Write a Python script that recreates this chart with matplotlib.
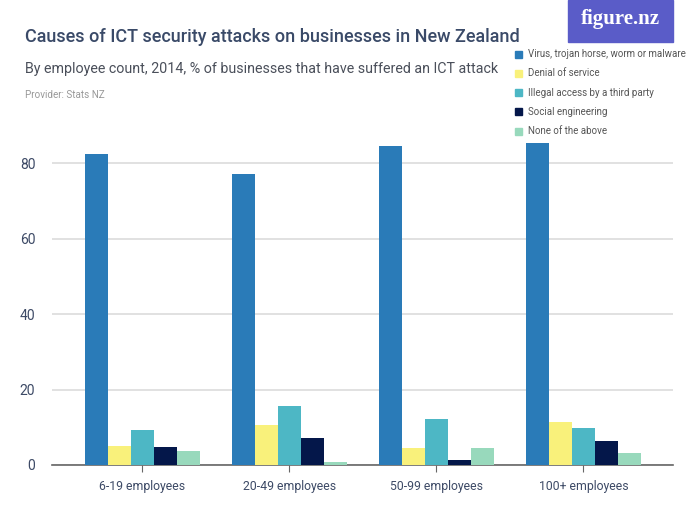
import numpy as np
import matplotlib.pyplot as plt
from matplotlib.patches import Rectangle

# data
groups = ["6-19 employees", "20-49 employees", "50-99 employees", "100+ employees"]
series = ["Virus, trojan horse, worm or malware", "Denial of service",
          "Illegal access by a third party", "Social engineering", "None of the above"]
virus = [82.6, 77.3, 84.5, 85.3]
denial = [5.0, 10.5, 4.5, 11.3]
illegal = [9.3, 15.6, 12.3, 9.7]
social = [4.8, 7.2, 1.3, 6.4]
none_above = [3.7, 0.8, 4.5, 3.1]
colors = ["#2a7bb8", "#f9f17b", "#4db7c5", "#04174a", "#98d9bc"]

plt.rcParams['font.family'] = ['Roboto', 'DejaVu Sans']

fig = plt.figure(figsize=(7, 5.25), dpi=100)
ax = fig.add_axes([52 / 700, 1 - 465 / 525, 621 / 700, 90 * 3.771 / 525])

x = np.arange(len(groups))
w = 23 / 147
for i, vals in enumerate([virus, denial, illegal, social, none_above]):
    ax.bar(x + (i - 2) * w, vals, w, color=colors[i], label=series[i], zorder=3)

ax.set_xlim(-0.615, 3.61)
ax.set_ylim(0, 90)
ax.set_yticks([0, 20, 40, 60, 80])
ax.yaxis.grid(True, color="#dedede", lw=1.3, zorder=0)
for s in ["top", "right", "left"]:
    ax.spines[s].set_visible(False)
ax.spines["bottom"].set_color("#666666")
ax.spines["bottom"].set_linewidth(1.2)
ax.set_xticks(x)
ax.set_xticklabels(groups)
ax.tick_params(axis="x", length=5, color="#666666", labelsize=8.8, labelcolor="#3d4a66", pad=6)
ax.tick_params(axis="y", length=0, labelsize=10, labelcolor="#3d4a66", pad=12)

fig.text(25 / 700, 1 - 37 / 525, "Causes of ICT security attacks on businesses in New Zealand",
         fontsize=13, color="#3a4a68", va="center", weight="medium")
fig.text(25 / 700, 1 - 69 / 525, "By employee count, 2014, % of businesses that have suffered an ICT attack",
         fontsize=10.3, color="#4a4f5a", va="center")
fig.text(25 / 700, 1 - 95 / 525, "Provider: Stats NZ", fontsize=7.1, color="#999999", va="center")

# legend
for i, name in enumerate(series):
    yy = 1 - (54 + i * 19.3) / 525
    fig.patches.append(Rectangle((515 / 700, yy - 3.5 / 525), 7 / 700, 7 / 525,
                                 transform=fig.transFigure, color=colors[i], figure=fig))
    fig.text(528 / 700, yy, name, fontsize=7, color="#555555", va="center")

# logo
fig.patches.append(Rectangle((568 / 700, 1 - 42 / 525), 105 / 700, 42 / 525,
                             transform=fig.transFigure, color="#5a5cc8", figure=fig))
fig.text(620 / 700, 1 - 19 / 525, "figure.nz", fontsize=15, color="white", ha="center",
         va="center", weight="bold", family=["Liberation Serif", "DejaVu Serif"])

plt.savefig("out.png", dpi=100)
